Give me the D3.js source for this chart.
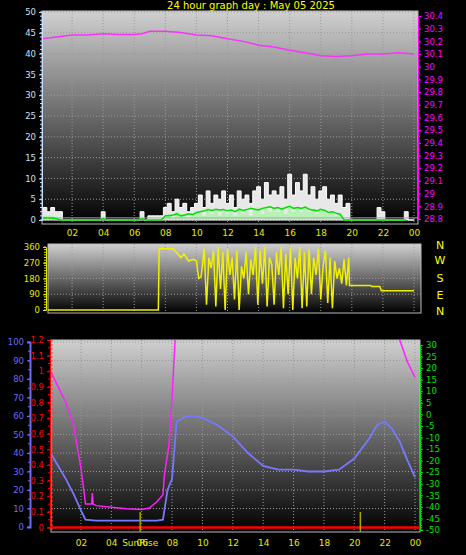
<!DOCTYPE html>
<html><head><meta charset="utf-8">
<script src="https://cdn.jsdelivr.net/npm/d3@7"></script>
<style>body{margin:0;background:#000}svg{display:block}text{font-family:"DejaVu Sans",sans-serif}</style>
</head><body><svg id="c" width="466" height="555"></svg>
<script>
const title = "24 hour graph day : May 05 2025";
const hourTicks = [2,4,6,8,10,12,14,16,18,20,22,24];
const hourLabels = ["02","04","06","08","10","12","14","16","18","20","22","00"];
// pressure (inHg)
const pressHours = [0,1,2,3,4,5,6,6.5,7,8,9,10,11,12,13,14,15,16,17,18,19,20,21,22,23,24];
const pressVals  = [30.22,30.235,30.25,30.25,30.26,30.255,30.255,30.26,30.28,30.28,30.27,30.25,30.245,30.22,30.2,30.17,30.155,30.13,30.11,30.087,30.08,30.087,30.1,30.1,30.11,30.1];
// wind speed, 15-minute steps from 0h
const gustVals = [2,3,2,3,2,2,0,0,0,0,0,0,0,0,0,0,2,0,0,0,0,0,0,0,0,0,2,0,1,1,1,1,
  3,4,2,5,3,4,2,3,4,6,3,7,4,6,5,7,4,6,3,7,5,6,4,7,8,5,9,6,7,6,8,5,11,6,9,7,11,6,8,5,7,8,5,6,4,6,3,4,0,0,0,0,0,0,0,3,2,0,0,0,0,0,2,0,0];
const avgVals  = [0.5,0.5,0.5,0.5,0.3,0,0,0,0,0,0,0,0,0,0,0,0.3,0,0,0,0,0,0,0,0,0,0.3,0,0,0,0,0,
  1,1,1.2,1.5,1,1.2,1.5,1.3,1.8,2,2.2,2.5,2.3,2.6,2.4,2.5,2.2,2.4,2,2.6,2.3,2.5,2.8,2.6,2.4,2.8,3,3.2,2.8,3,2.6,3,3.3,2.8,3,2.8,3.1,2.6,2.4,2.2,2.6,2.3,1.8,2,1.6,1.4,0,0,0,0,0,0,0,0,0,0,0,0,0,0,0,0,0];
const lullVals = [1,1,1,1,0.5,0,0,0,0,0,0,0,0,0,0,0,0.5,0,0,0,0,0,0,0,0,0,0.5,0,0,0,0,0,
  1,1.5,0.5,2,1,1.5,0.5,1,1.5,2,1,2,1.5,2.5,1,2,1.5,2,1,2.5,1.5,2,1,2.5,3,1.5,3,2,2.5,2,3,1.5,3,2,3,2,3,2,2.5,1.5,2.5,2,1.5,2,1,1.5,0,0,0,0,0,0,0,0,0,0,0,0,0,0,0,0,0];
// wind direction
const dirHours = [0,7.55,7.6,8.5,8.7,9.0,9.2,9.5,9.8,10.0,10.15,10.3,10.5,10.65,10.8,10.95,11.1,11.25,11.4,11.55,11.7,11.85,12.0,12.15,12.3,12.45,12.6,12.75,12.9,13.05,13.2,13.35,13.5,13.65,13.8,13.95,14.1,14.25,14.4,14.55,14.7,14.85,15.0,15.15,15.3,15.45,15.6,15.75,15.9,16.05,16.2,16.35,16.5,16.65,16.8,16.95,17.1,17.25,17.4,17.55,17.7,17.85,18.0,18.15,18.3,18.45,18.6,18.75,18.9,19.05,19.2,19.35,19.5,19.65,19.8,19.85,21.2,21.3,21.8,21.9,24];
const dirVals  = [0,0,350,350,330,300,320,280,290,280,180,190,350,30,300,240,340,20,360,120,330,0,350,200,300,60,340,0,250,180,330,90,290,200,360,30,340,150,360,20,300,260,30,330,200,360,10,320,90,360,0,300,180,360,10,330,20,350,90,300,200,350,60,250,340,40,300,10,280,180,240,150,290,140,300,140,140,135,135,110,110];
// humidity (%) and precipitation-like trace
const humHours = [0,0.5,1,1.5,2,2.3,3,5,7,7.4,7.7,8,8.3,9,9.5,10,11,12,13,14,15,16,17,18,19,20,21,21.5,22,22.5,23,23.5,24];
const humVals  = [40,33,26,18,9,4,3.5,3.5,3.5,4,20,26,57,60,60,59,55,49,40,33,31,31,30,30,31,37,48,55,57,53,46,36,27];
const rainHours = [0,0.5,1,1.5,2,2.2,2.3,2.7,2.75,2.8,3,4,5,6,6.5,7,7.4,7.5,7.8,8,8.2,8.4,22.8,23,23.5,24];
const rainVals  = [1.0,0.9,0.8,0.66,0.38,0.23,0.15,0.15,0.22,0.15,0.14,0.13,0.12,0.115,0.125,0.165,0.21,0.34,0.53,0.83,1.2,1.5,1.5,1.2,1.06,0.96];
const sunEvents = [5.9,20.4];

const svg = d3.select("#c");
const defs = svg.append("defs");
const gr = defs.append("linearGradient").attr("id","bg").attr("x1",0).attr("y1",0).attr("x2",0).attr("y2",1);
gr.append("stop").attr("offset","0%").attr("stop-color","#d0d0d0");
gr.append("stop").attr("offset","100%").attr("stop-color","#000");

function panel(id,x0,x1,y0,y1){
  defs.append("clipPath").attr("id",id).append("rect").attr("x",x0).attr("y",y0).attr("width",x1-x0).attr("height",y1-y0);
  svg.append("rect").attr("x",x0).attr("y",y0).attr("width",x1-x0).attr("height",y1-y0).attr("fill","url(#bg)").attr("stroke","#bbb");
  return svg.append("g").attr("clip-path",`url(#${id})`);
}
function grid(g,xs,ys,xt,yt,x0,x1,y0,y1){
  xt.forEach(t=>g.append("line").attr("x1",xs(t)).attr("x2",xs(t)).attr("y1",y0).attr("y2",y1).attr("stroke","#999").attr("stroke-dasharray","1,2"));
  yt.forEach(t=>g.append("line").attr("y1",ys(t)).attr("y2",ys(t)).attr("x1",x0).attr("x2",x1).attr("stroke","#999").attr("stroke-dasharray","1,2"));
}
function xLabels(xs,y){
  svg.append("g").attr("transform",`translate(0,${y})`).call(d3.axisBottom(xs).tickValues(hourTicks).tickFormat((d,i)=>hourLabels[i]).tickSize(0))
   .call(g=>{g.select(".domain").remove();g.selectAll("text").attr("fill","#e8e800").attr("font-size",9);});
}
function yAxis(scale,x,ticks,color,side,fmt,minor){
  const ax = (side==="left"?d3.axisLeft(scale):d3.axisRight(scale)).tickValues(ticks).tickSize(3).tickFormat(fmt||(d=>d));
  const g = svg.append("g").attr("transform",`translate(${x},0)`).call(ax);
  g.selectAll("text").attr("fill",color).attr("font-size",8.5);
  g.selectAll("line,path").attr("stroke",color);
  if(minor){
    const m = side==="left"?-2:2;
    minor.forEach(v=>g.append("line").attr("x1",0).attr("x2",m).attr("y1",scale(v)).attr("y2",scale(v)).attr("stroke",color));
  }
  return g;
}

svg.append("text").attr("x",251).attr("y",9).attr("text-anchor","middle").attr("fill","#ffff00").attr("font-size",10).text(title);

// ---- top panel
const xT = d3.scaleLinear([0,24],[41,414]);
const ySpd = d3.scaleLinear([0,50],[220,12]);
const yPr = d3.scaleLinear([28.8,30.4],[219,16]);
const gT = panel("cT",42,418,11,224);
grid(gT,xT,ySpd,hourTicks,d3.range(0,51,5),42,418,11,224);
const step = 0.25;
gT.append("path").datum(gustVals).attr("fill","#e8e8e8").attr("stroke","#fff").attr("stroke-width",1)
  .attr("d",d3.area().x((d,i)=>xT(i*step)).y0(ySpd(0)).y1(d=>ySpd(d)).curve(d3.curveStep));
gT.append("path").datum(lullVals).attr("fill","#b8f0b8")
  .attr("d",d3.area().x((d,i)=>xT(i*step)).y0(ySpd(0)).y1(d=>ySpd(d)).curve(d3.curveStep));
gT.append("line").attr("x1",42).attr("x2",418).attr("y1",ySpd(0.5)).attr("y2",ySpd(0.5)).attr("stroke","#aaa");
gT.append("path").datum(avgVals).attr("fill","none").attr("stroke","#00e000").attr("stroke-width",1.5)
  .attr("d",d3.line().x((d,i)=>xT(i*step)).y(d=>ySpd(d)));
gT.append("path").datum(pressVals).attr("fill","none").attr("stroke","#ff30ff").attr("stroke-width",1.5)
  .attr("d",d3.line().x((d,i)=>xT(pressHours[i])).y(d=>yPr(d)));
yAxis(ySpd,42,d3.range(0,51,5),"#c8e0ff","left",null,d3.range(0,51,1));
yAxis(yPr,418,d3.range(28.8,30.41,0.1).map(v=>+v.toFixed(1)),"#ff00ff","right",d=>d3.format("")(+d.toFixed(1)),d3.range(28.8,30.4,0.05));
xLabels(xT,227);

// ---- wind direction
const yDir = d3.scaleLinear([0,360],[310,247]);
const gW = panel("cW",48,421,244,313);
grid(gW,xT,yDir,hourTicks,[90,180,270],48,421,244,313);
gW.append("path").datum(dirVals).attr("fill","none").attr("stroke","#f0f000").attr("stroke-width",1.5)
  .attr("d",d3.line().x((d,i)=>xT(dirHours[i])).y(d=>yDir(d)));
yAxis(yDir,46,[0,90,180,270,360],"#e8e800","left",null,d3.range(0,361,15));
const compass = ["N","W","S","E","N"];
const compassY = [245,260,278,295,311];
compass.forEach((c,i)=>svg.append("text").attr("x",440).attr("y",compassY[i]+4).attr("text-anchor","middle").attr("fill","#ffff00").attr("font-size",11).text(c));

// ---- bottom
const xB = d3.scaleLinear([0,24],[50.6,415]);
const yHum = d3.scaleLinear([0,100],[527,342]);
const yRain = d3.scaleLinear([0,1.2],[527.5,340]);
const yTmp = d3.scaleLinear([-50,30],[530,345]);
const gB = panel("cB",51,420,340,532);
grid(gB,xB,yHum,hourTicks,d3.range(10,101,10),51,420,340,532);
gB.append("path").datum(rainVals).attr("fill","none").attr("stroke","#ff20ff").attr("stroke-width",1.5)
  .attr("d",d3.line().x((d,i)=>xB(rainHours[i])).y(d=>yRain(d)));
gB.append("path").datum(humVals).attr("fill","none").attr("stroke","#7878ff").attr("stroke-width",1.8)
  .attr("d",d3.line().x((d,i)=>xB(humHours[i])).y(d=>yHum(d)));
gB.append("line").attr("x1",51).attr("x2",420).attr("y1",yRain(0)).attr("y2",yRain(0)).attr("stroke","#ff0000").attr("stroke-width",2.5);
sunEvents.forEach(h=>gB.append("line").attr("x1",xB(h)).attr("x2",xB(h)).attr("y1",512).attr("y2",532).attr("stroke","#b0a000").attr("stroke-width",1.5));
svg.append("line").attr("x1",52).attr("x2",52).attr("y1",340).attr("y2",532).attr("stroke","#ff4040").attr("stroke-dasharray","2,2");
yAxis(yHum,30,d3.range(0,101,10),"#6b6bff","left",null,d3.range(0,101,5)).select(".domain").attr("stroke-width",2);
yAxis(yRain,50,d3.range(0,1.21,0.1).map(v=>+v.toFixed(1)),"#ff0000","left",d=>d3.format("")(+d.toFixed(1)),d3.range(0,1.2,0.05));
yAxis(yTmp,420,d3.range(-50,31,5),"#00e000","right",null,d3.range(-50,30,1));
xLabels(xB,537);
svg.append("text").attr("x",xB(5.9)).attr("y",546).attr("text-anchor","middle").attr("fill","#e8e800").attr("font-size",9).text("SunRise");
</script></body></html>
